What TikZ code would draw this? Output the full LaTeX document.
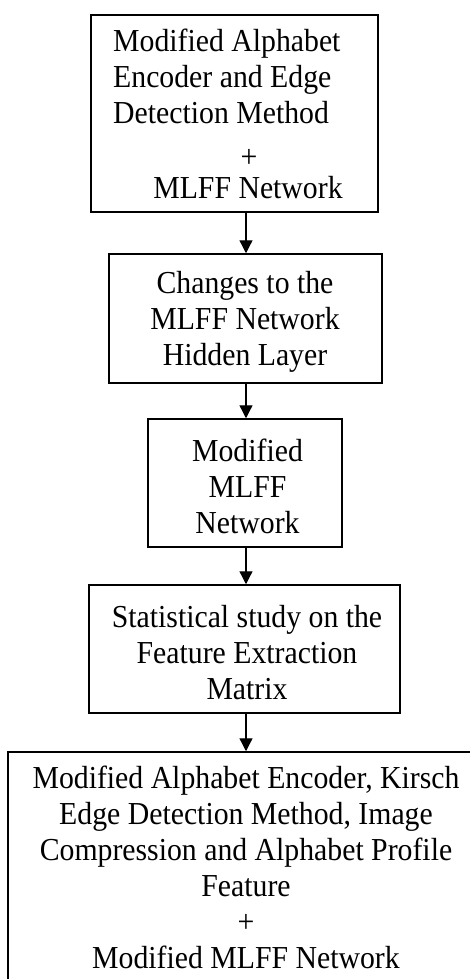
\documentclass[tikz,border=0pt]{standalone}
\usepackage{fontspec}
\setmainfont[FakeStretch=0.93]{Liberation Serif}
\usetikzlibrary{arrows.meta}
\begin{document}
\begin{tikzpicture}[x=1pt,y=-1pt,
  box/.style={draw=black,line width=1.5pt,rectangle,inner sep=0pt},
  txt/.style={inner sep=0pt,font=\fontsize{32}{36}\selectfont,align=center},
  conn/.style={line width=1.3pt,-{Triangle[length=13pt,width=13pt]}}]
\useasboundingbox (0,0) rectangle (470,979);
\clip (0,0) rectangle (470,979);
\fill[white] (0,0) rectangle (470,979);
% boxes
\node[box,minimum width=287pt,minimum height=197pt] (b1) at (234.5,113.5) {};
\node[box,minimum width=273pt,minimum height=129pt] (b2) at (245.5,318.5) {};
\node[box,minimum width=194pt,minimum height=128pt] (b3) at (245,483) {};
\node[box,minimum width=311pt,minimum height=128pt] (b4) at (244.5,649) {};
\node[box,minimum width=474pt,minimum height=240pt] (b5) at (245,872) {};
% texts
\node[txt,anchor=north west,align=left] (t1a) at (113,29) {Modified Alphabet\\Encoder and Edge\\Detection Method};
\node[txt] (t1b) at (249,158) {+};
\node[txt,anchor=base] (t1c) at (248,198) {MLFF Network};
\node[txt] (t2) at (245,322) {Changes to the\\MLFF Network\\Hidden Layer};
\node[txt] (t3) at (247.5,486) {Modified\\MLFF\\Network};
\node[txt] (t4) at (247,653) {Statistical study on the\\Feature Extraction\\Matrix};
\node[txt] (t5) at (246,867) {Modified Alphabet Encoder, Kirsch\\Edge Detection Method, Image\\Compression and Alphabet Profile\\Feature\\+\\Modified MLFF Network};
% connectors
\draw[conn] (b1.south -| 246,0) -- (b2.north -| 246,0);
\draw[conn] (b2.south -| 246,0) -- (b3.north -| 246,0);
\draw[conn] (b3.south -| 246,0) -- (b4.north -| 246,0);
\draw[conn] (b4.south -| 246,0) -- (b5.north -| 246,0);
\end{tikzpicture}
\end{document}
